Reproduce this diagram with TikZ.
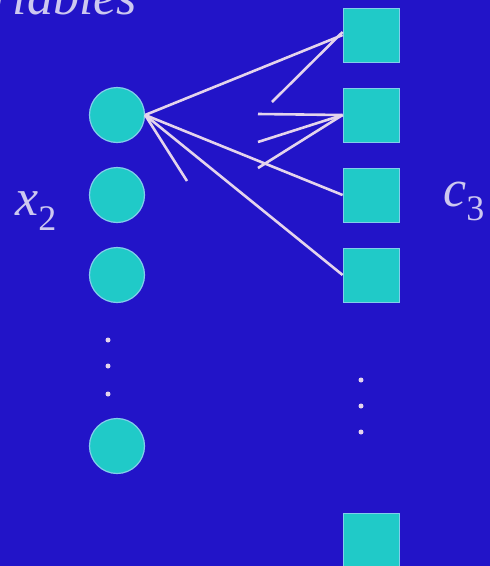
\documentclass[tikz,border=0pt]{standalone}
\usepackage{fontspec}
\setmainfont{Liberation Serif}
\definecolor{bgblue}{RGB}{34,20,200}
\definecolor{nodecyan}{RGB}{32,202,200}
\definecolor{nodeedge}{RGB}{130,205,235}
\definecolor{edgecol}{RGB}{228,212,236}
\definecolor{txtcol}{RGB}{205,200,240}
\begin{document}
\begin{tikzpicture}[x=1pt,y=-1pt,
  varnode/.style={circle,fill=nodecyan,draw=nodeedge,line width=1.2pt,minimum size=55pt,inner sep=0pt},
  clsnode/.style={rectangle,fill=nodecyan,draw=nodeedge,line width=0.8pt,minimum width=56pt,minimum height=54pt,inner sep=0pt},
  dotnode/.style={circle,fill=edgecol,inner sep=0pt,minimum size=5pt},
  edgeline/.style={draw=edgecol,line width=2.6pt},
  lbl/.style={text=txtcol,inner sep=0pt,font=\fontsize{52}{56}\selectfont\itshape}]
\fill[bgblue] (0,0) rectangle (490,566);
\useasboundingbox (0,0) rectangle (490,566);
% variable nodes
\node[varnode] (v1) at (117,115) {};
\node[varnode] (v2) at (117,195) {};
\node[varnode] (v3) at (117,275) {};
\node[varnode] (v4) at (117,446) {};
\node[dotnode] (ld1) at (108,340) {};
\node[dotnode] (ld2) at (108,366) {};
\node[dotnode] (ld3) at (108,394) {};
% clause nodes
\node[clsnode] (c1) at (371,35) {};
\node[clsnode] (c2) at (371,115) {};
\node[clsnode] (c3) at (371,195) {};
\node[clsnode] (c4) at (371,275) {};
\node[clsnode] (c5) at (371,540) {};
\node[dotnode] (rd1) at (361,380) {};
\node[dotnode] (rd2) at (361,406) {};
\node[dotnode] (rd3) at (361,432) {};
% free ends
\coordinate (e1) at (272,102);
\coordinate (e2) at (258,114);
\coordinate (e3) at (258,142);
\coordinate (e4) at (258,168);
\coordinate (e5) at (187,181);
% edges
\draw[edgeline] (v1.east) -- (c1.west);
\draw[edgeline] (e1) -- ([yshift=3pt]c1.west);
\draw[edgeline] (e2) -- (c2.west);
\draw[edgeline] (e3) -- (c2.west);
\draw[edgeline] (e4) -- (c2.west);
\draw[edgeline] (v1.east) -- (c3.west);
\draw[edgeline] (v1.east) -- (c4.west);
\draw[edgeline] (v1.east) -- (e5);
% labels
\node[lbl,anchor=base east] (ttl) at (137,14) {variables};
\node[lbl,anchor=base west] (xl) at (15,215) {x\raisebox{-15pt}{\fontsize{36}{40}\selectfont\upshape 2}};
\node[lbl,anchor=base west] (cl) at (443,206) {c\raisebox{-14pt}{\fontsize{36}{40}\selectfont\upshape 3}};
\end{tikzpicture}
\end{document}
